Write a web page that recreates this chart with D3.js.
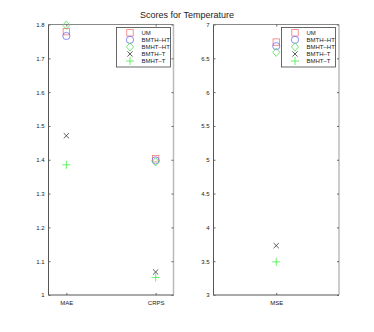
<!DOCTYPE html>
<html>
<head>
<meta charset="utf-8">
<script src="https://cdn.jsdelivr.net/npm/d3@7"></script>
<style>
body { margin: 0; background: #fff; }
text { font-family: "Liberation Sans", Arial, sans-serif; fill: #222; }
</style>
</head>
<body>
<div id="chart"></div>
<script>
var series = ['UM', 'BMTH-HT', 'BMHT-HT', 'BMTH-T', 'BMHT-T'];
var colors = ['#f27a7a', '#7070f0', '#55dd55', '#333333', '#44ee44'];
var shapes = ['square', 'circle', 'diamond', 'x', 'plus'];

var leftCats = ['MAE', 'CRPS'];
var leftVals = [
	[1.779, 1.403],   // UM
	[1.766, 1.398],   // BMTH-HT
	[1.798, 1.394],   // BMHT-HT
	[1.471, 1.068],   // BMTH-T
	[1.385, 1.052]    // BMHT-T
];
var leftTicks = [1, 1.1, 1.2, 1.3, 1.4, 1.5, 1.6, 1.7, 1.8];

var rightCats = ['MSE'];
var rightVals = [
	[6.74],
	[6.68],
	[6.59],
	[3.73],
	[3.49]
];
var rightTicks = [3, 3.5, 4, 4.5, 5, 5.5, 6, 6.5, 7];

var width = 374, height = 332;
var svg = d3.select('#chart').append('svg')
	.attr('width', width).attr('height', height);

svg.append('text')
	.attr('x', 187).attr('y', 18)
	.attr('text-anchor', 'middle')
	.style('font-size', '9px')
	.text('Scores for Temperature');

drawPanel({
	x0: 48.5, x1: 173.5, y0: 24.5, y1: 295,
	cats: leftCats, vals: leftVals, ticks: leftTicks,
	yDomain: [1, 1.8], xDomain: [0.8, 2.2],
	fmt: function(d){ return d3.format('')(+d.toFixed(1)); },
	legendX: 116.5
});

drawPanel({
	x0: 213.5, x1: 339, y0: 24.5, y1: 295,
	cats: rightCats, vals: rightVals, ticks: rightTicks,
	yDomain: [3, 7], xDomain: [0.5, 1.5],
	fmt: function(d){ return d3.format('')(+d.toFixed(1)); },
	legendX: 281.5
});

function drawPanel(p){
	var g = svg.append('g');
	var x = d3.scaleLinear().domain(p.xDomain).range([p.x0, p.x1]);
	var y = d3.scaleLinear().domain(p.yDomain).range([p.y1, p.y0]);

	// frame
	g.append('line').attr('x1', p.x0).attr('y1', p.y0).attr('x2', p.x1).attr('y2', p.y0)
		.attr('stroke', '#888').attr('stroke-width', 1);
	g.append('line').attr('x1', p.x1).attr('y1', p.y0).attr('x2', p.x1).attr('y2', p.y1)
		.attr('stroke', '#bbb').attr('stroke-width', 1.5);
	g.append('line').attr('x1', p.x0).attr('y1', p.y0).attr('x2', p.x0).attr('y2', p.y1)
		.attr('stroke', '#555').attr('stroke-width', 1);
	g.append('line').attr('x1', p.x0).attr('y1', p.y1).attr('x2', p.x1).attr('y2', p.y1)
		.attr('stroke', '#555').attr('stroke-width', 1);

	// y axis ticks (left and right)
	var yAxis = d3.axisLeft(y).tickValues(p.ticks).tickSize(-2).tickPadding(4).tickFormat(p.fmt);
	var ya = g.append('g').attr('transform', 'translate(' + p.x0 + ',0)').call(yAxis);
	ya.select('.domain').remove();
	ya.selectAll('.tick line').attr('stroke', '#666');
	ya.selectAll('.tick text').style('font-size', '6px').attr('fill', '#222');

	var yAxisR = d3.axisRight(y).tickValues(p.ticks).tickSize(-2).tickFormat('');
	var yr = g.append('g').attr('transform', 'translate(' + p.x1 + ',0)').call(yAxisR);
	yr.select('.domain').remove();
	yr.selectAll('.tick line').attr('stroke', '#666');

	// x axis ticks
	var xs = p.cats.map(function(c, i){ return i + 1; });
	var xAxis = d3.axisBottom(x).tickValues(xs).tickSize(-2).tickPadding(6)
		.tickFormat(function(d){ return p.cats[d - 1]; });
	var xa = g.append('g').attr('transform', 'translate(0,' + p.y1 + ')').call(xAxis);
	xa.select('.domain').remove();
	xa.selectAll('.tick line').attr('stroke', '#666');
	xa.selectAll('.tick text').style('font-size', '6px').attr('fill', '#222');

	var xTop = d3.axisTop(x).tickValues(xs).tickSize(-2).tickFormat('');
	var xt = g.append('g').attr('transform', 'translate(0,' + p.y0 + ')').call(xTop);
	xt.select('.domain').remove();
	xt.selectAll('.tick line').attr('stroke', '#666');

	// markers
	for(var s=0; s<series.length; s++){
		for(var j=0; j<p.cats.length; j++){
			drawMarker(g, x(j + 1), y(p.vals[s][j]), shapes[s], colors[s]);
		}
	}

	// legend
	var lw = 54, lh = 39.5, ly = 27.5;
	var lg = g.append('g');
	lg.append('rect').attr('x', p.legendX).attr('y', ly).attr('width', lw).attr('height', lh)
		.attr('fill', '#fff').attr('stroke', '#444').attr('stroke-width', 0.8);
	var rowY = d3.scalePoint().domain(series).range([ly + 5.3, ly + 33.5]);
	for(var k=0; k<series.length; k++){
		drawMarker(lg, p.legendX + 13.5, rowY(series[k]), shapes[k], colors[k]);
		lg.append('text')
			.attr('x', p.legendX + 25).attr('y', rowY(series[k]) + 2)
			.style('font-size', '6px')
			.text(series[k].replace('-', '\u2013'));
	}
}

function drawMarker(g, cx, cy, shape, color){
	var r = 3.2;
	if(shape == 'square'){
		g.append('rect').attr('x', cx - r).attr('y', cy - r).attr('width', 2*r).attr('height', 2*r)
			.attr('fill', 'none').attr('stroke', color).attr('stroke-width', 0.8);
	}else if(shape == 'circle'){
		g.append('circle').attr('cx', cx).attr('cy', cy).attr('r', 3.6)
			.attr('fill', 'none').attr('stroke', color).attr('stroke-width', 0.8);
	}else if(shape == 'diamond'){
		var d = 4.2;
		g.append('path')
			.attr('d', 'M' + cx + ',' + (cy - d) + 'L' + (cx + d*0.85) + ',' + cy + 'L' + cx + ',' + (cy + d) + 'L' + (cx - d*0.85) + ',' + cy + 'Z')
			.attr('fill', 'none').attr('stroke', color).attr('stroke-width', 0.8);
	}else if(shape == 'x'){
		var a = 2.6;
		g.append('path')
			.attr('d', 'M' + (cx - a) + ',' + (cy - a) + 'L' + (cx + a) + ',' + (cy + a) + 'M' + (cx - a) + ',' + (cy + a) + 'L' + (cx + a) + ',' + (cy - a))
			.attr('stroke', color).attr('stroke-width', 0.8);
	}else if(shape == 'plus'){
		var b = 4;
		g.append('path')
			.attr('d', 'M' + (cx - b) + ',' + cy + 'L' + (cx + b) + ',' + cy + 'M' + cx + ',' + (cy - b) + 'L' + cx + ',' + (cy + b))
			.attr('stroke', color).attr('stroke-width', 0.8);
	}
}
</script>
</body>
</html>
